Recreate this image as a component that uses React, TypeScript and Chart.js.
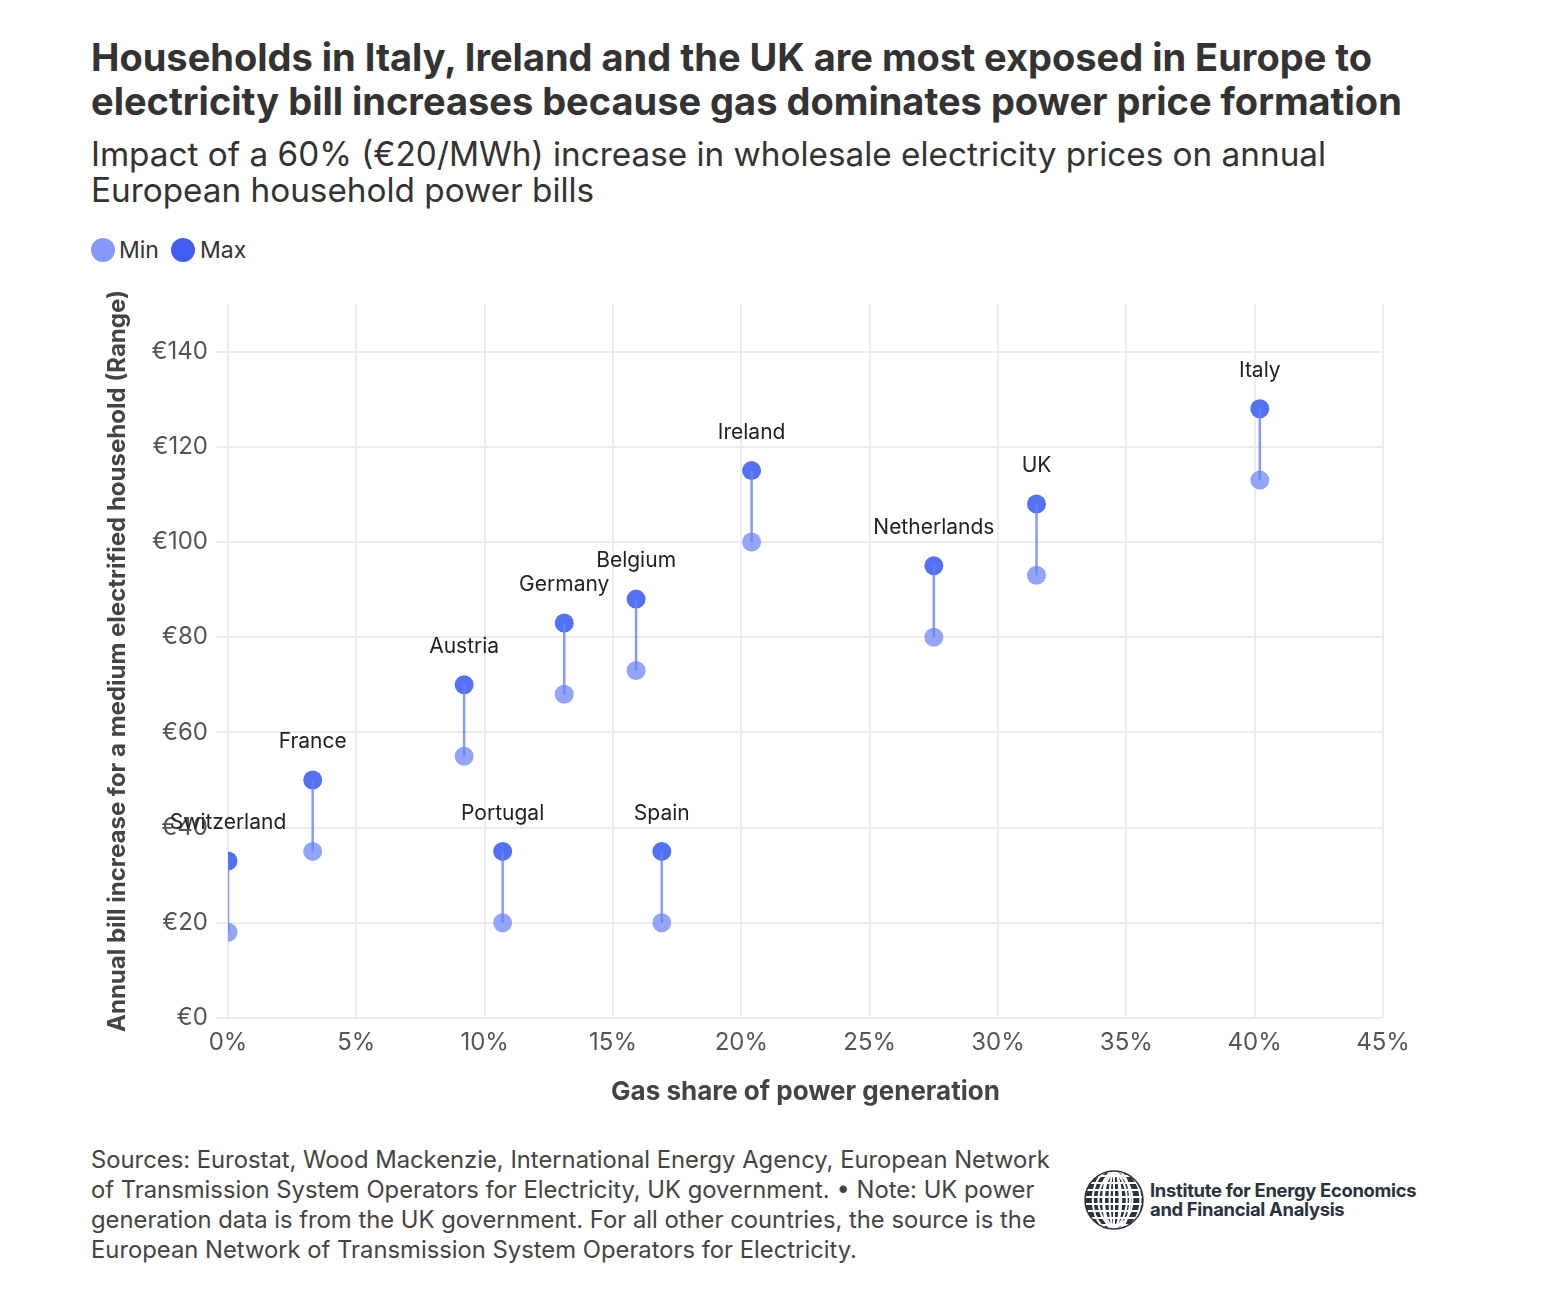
import React, { useEffect, useRef } from "react";
import { Chart, registerables } from "chart.js";

Chart.register(...registerables);

// Country data: gas share of generation (%) and annual bill increase range (€)
const countries = ["Switzerland", "France", "Austria", "Portugal", "Germany", "Belgium", "Spain", "Ireland", "Netherlands", "UK", "Italy"];
const gasShare = [0, 3.3, 9.2, 10.7, 13.1, 15.9, 16.9, 20.4, 27.5, 31.5, 40.2];
const minIncrease = [18, 35, 55, 20, 68, 73, 20, 100, 80, 93, 113];
const maxIncrease = [33, 50, 70, 35, 83, 88, 35, 115, 95, 108, 128];

const xTickValues = [0, 5, 10, 15, 20, 25, 30, 35, 40, 45];
const yTickValues = [0, 20, 40, 60, 80, 100, 120, 140];

const FONT = "Inter, 'Noto Sans', sans-serif";
const MIN_COLOR = "#93a5f7";
const MAX_COLOR = "#5571f3";
const LINK_COLOR = "rgba(105,130,245,0.8)";
const GRID_COLOR = "#ececec";

const countryLabels = {
  id: "countryLabels",
  afterDatasetsDraw(chart: any) {
    const { ctx } = chart;
    const xs = chart.scales.x;
    const ys = chart.scales.y;
    ctx.save();
    ctx.font = `21px ${FONT}`;
    ctx.fillStyle = "#222";
    ctx.textAlign = "center";
    ctx.textBaseline = "middle";
    countries.forEach((name, i) => {
      const px = xs.getPixelForValue(gasShare[i]);
      const py = ys.getPixelForValue(maxIncrease[i]);
      ctx.fillText(name, px, py - 38);
    });
    ctx.restore();
  },
};

const axisTitles = {
  id: "axisTitles",
  afterDraw(chart: any) {
    const { ctx, chartArea } = chart;
    ctx.save();
    ctx.fillStyle = "#444";
    ctx.font = `bold 26px ${FONT}`;
    ctx.textAlign = "center";
    ctx.textBaseline = "middle";
    ctx.fillText("Gas share of power generation", (chartArea.left + chartArea.right) / 2, chartArea.bottom + 74);
    ctx.translate(118, (chartArea.top + chartArea.bottom) / 2);
    ctx.rotate(-Math.PI / 2);
    ctx.font = `bold 24px ${FONT}`;
    ctx.fillText("Annual bill increase for a medium electrified household (Range)", 0, 0);
    ctx.restore();
  },
};

function Globe() {
  const meridians = [-22, -14, -6, 2, 10, 18];
  return (
    <svg width="62" height="62" viewBox="-31 -31 62 62">
      <defs>
        <clipPath id="globeClip">
          <circle cx="0" cy="0" r="29" />
        </clipPath>
      </defs>
      <g clipPath="url(#globeClip)">
        <circle cx="0" cy="0" r="29" fill="#2b333d" />
        {[-24, -17, -10, -3, 4, 11, 18, 25].map((y) => (
          <line key={"p" + y} x1="-31" x2="31" y1={y} y2={y} stroke="#fff" strokeWidth="2" />
        ))}
        {meridians.map((m) => (
          <ellipse key={"m" + m} cx={m * 0.3} cy="0" rx={Math.abs(m) + 3} ry="29" fill="none" stroke="#fff" strokeWidth="2" />
        ))}
        <line x1="0" x2="0" y1="-31" y2="31" stroke="#fff" strokeWidth="2" />
      </g>
      <circle cx="0" cy="0" r="29" fill="none" stroke="#2b333d" strokeWidth="1.5" />
    </svg>
  );
}

export default function App() {
  const canvasRef = useRef<HTMLCanvasElement | null>(null);

  useEffect(() => {
    document.body.style.margin = "0";
    const canvas = canvasRef.current;
    if (!canvas) return;

    const linkData: any[] = [];
    countries.forEach((_, i) => {
      linkData.push({ x: gasShare[i], y: minIncrease[i] });
      linkData.push({ x: gasShare[i], y: maxIncrease[i] });
      linkData.push({ x: gasShare[i], y: null });
    });

    const chart = new Chart(canvas, {
      type: "scatter",
      data: {
        datasets: [
          {
            type: "line",
            label: "Range",
            data: linkData,
            borderColor: LINK_COLOR,
            borderWidth: 2.5,
            pointRadius: 0,
            spanGaps: false,
            order: 0,
          } as any,
          {
            label: "Min",
            data: countries.map((_, i) => ({ x: gasShare[i], y: minIncrease[i] })),
            backgroundColor: MIN_COLOR,
            borderColor: MIN_COLOR,
            pointRadius: 9.5,
            borderWidth: 0,
            order: 2,
          },
          {
            label: "Max",
            data: countries.map((_, i) => ({ x: gasShare[i], y: maxIncrease[i] })),
            backgroundColor: MAX_COLOR,
            borderColor: MAX_COLOR,
            pointRadius: 9.5,
            borderWidth: 0,
            order: 1,
          },
        ],
      },
      options: {
        animation: false,
        responsive: false,
        maintainAspectRatio: false,
        layout: { padding: { top: 24, right: 171, bottom: 0, left: 0 } },
        plugins: {
          legend: { display: false },
          tooltip: { enabled: false },
          title: { display: false },
        },
        scales: {
          x: {
            type: "linear",
            min: 0,
            max: 45,
            afterBuildTicks: (scale: any) => {
              scale.ticks = xTickValues.map((v) => ({ value: v }));
            },
            afterFit: (scale: any) => {
              scale.height = 102;
            },
            ticks: {
              padding: 10,
              color: "#555",
              font: { family: FONT, size: 24 },
              callback: (v: any) => `${v}%`,
            },
            grid: { color: GRID_COLOR, lineWidth: 2, drawTicks: false },
            border: { display: false },
          },
          y: {
            type: "linear",
            min: 0,
            max: 150,
            afterBuildTicks: (scale: any) => {
              scale.ticks = yTickValues.map((v) => ({ value: v }));
            },
            afterFit: (scale: any) => {
              scale.width = 228;
            },
            ticks: {
              padding: 8,
              color: "#555",
              font: { family: FONT, size: 24 },
              callback: (v: any) => `€${v}`,
            },
            grid: { color: GRID_COLOR, lineWidth: 2, drawTicks: true, tickLength: 12, tickColor: GRID_COLOR },
            border: { display: false },
          },
        },
      },
      plugins: [countryLabels, axisTitles],
    });

    return () => chart.destroy();
  }, []);

  return (
    <div style={{ position: "relative", width: 1554, height: 1297, background: "#fff", fontFamily: FONT, overflow: "hidden" }}>
      <div style={{ position: "absolute", left: 91, top: 35, width: 1440, color: "#333", fontWeight: 700, fontSize: 38, lineHeight: "44px" }}>
        Households in Italy, Ireland and the UK are most exposed in Europe to
        <br />
        electricity bill increases because gas dominates power price formation
      </div>
      <div style={{ position: "absolute", left: 91, top: 136, width: 1440, color: "#333", fontSize: 33.3, lineHeight: "36px" }}>
        Impact of a 60% (€20/MWh) increase in wholesale electricity prices on annual
        <br />
        European household power bills
      </div>
      <div style={{ position: "absolute", left: 91, top: 238, display: "flex", alignItems: "center", fontSize: 23, color: "#333", height: 24 }}>
        <span style={{ width: 24, height: 24, borderRadius: 12, background: "#8499f7", display: "inline-block", marginRight: 4 }} />
        <span style={{ marginRight: 12 }}>Min</span>
        <span style={{ width: 24, height: 24, borderRadius: 12, background: "#3f5cf5", display: "inline-block", marginRight: 5 }} />
        <span>Max</span>
      </div>
      <canvas ref={canvasRef} width={1554} height={840} style={{ position: "absolute", left: 0, top: 280, width: 1554, height: 840 }} />
      <div style={{ position: "absolute", left: 91, top: 1145, width: 1000, color: "#444", fontSize: 23.8, lineHeight: "30px", whiteSpace: "nowrap" }}>
        Sources: Eurostat, Wood Mackenzie, International Energy Agency, European Network
        <br />
        of Transmission System Operators for Electricity, UK government. • Note: UK power
        <br />
        generation data is from the UK government. For all other countries, the source is the
        <br />
        European Network of Transmission System Operators for Electricity.
      </div>
      <div style={{ position: "absolute", left: 1083, top: 1169, display: "flex", alignItems: "center" }}>
        <Globe />
        <div style={{ marginLeft: 5, color: "#2a323c", fontWeight: 700, fontSize: 18.4, lineHeight: "19px", letterSpacing: "-0.3px" }}>
          Institute for Energy Economics
          <br />
          and Financial Analysis
        </div>
      </div>
    </div>
  );
}
